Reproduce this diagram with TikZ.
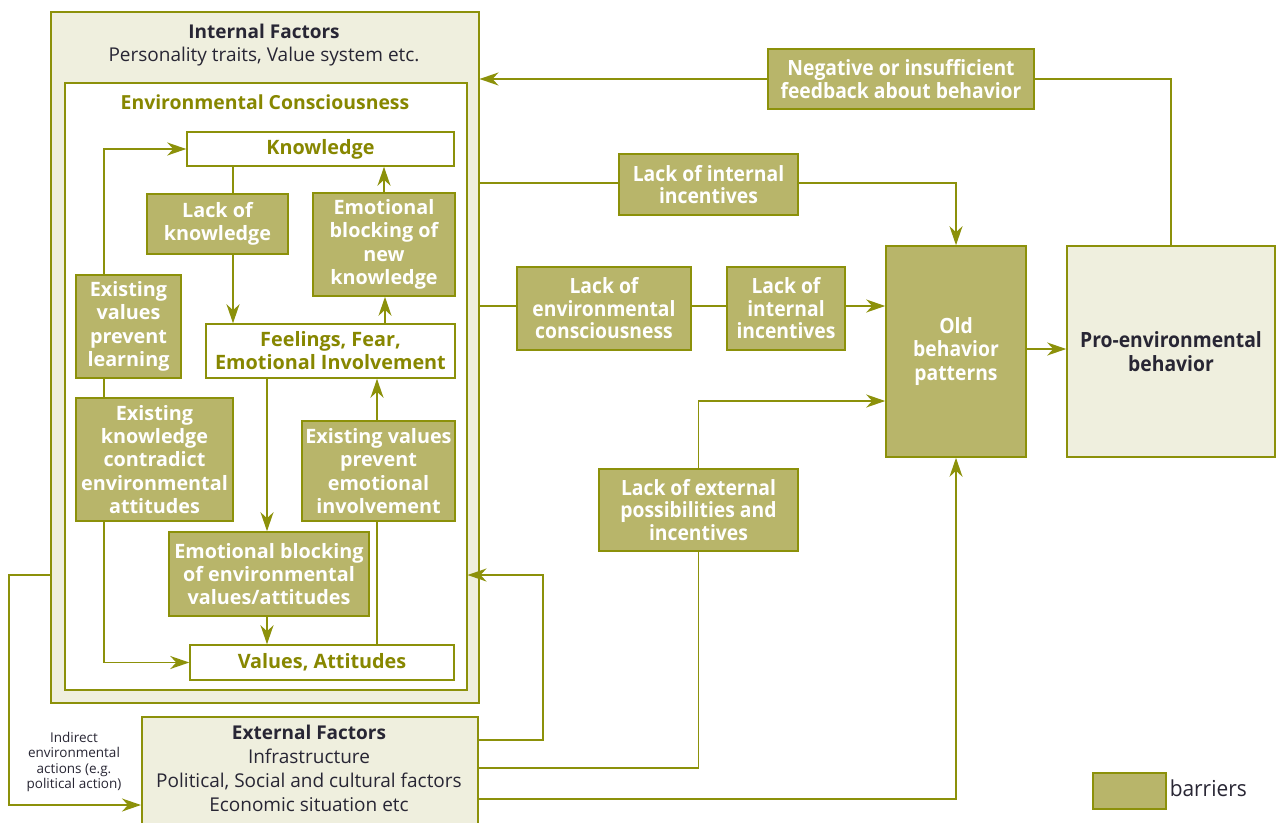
\documentclass[tikz,border=0pt]{standalone}
\usepackage{fontspec}
\setmainfont{Open Sans}
\newfontfamily\condfont[FakeStretch=0.92]{Open Sans}
\newfontfamily\condlight[FakeStretch=0.95]{Open Sans}
\usetikzlibrary{arrows.meta}
\definecolor{ol}{RGB}{140,145,10}
\definecolor{barfill}{RGB}{184,181,106}
\definecolor{beige}{RGB}{239,239,222}
\definecolor{oltext}{RGB}{135,135,0}
\definecolor{dark}{RGB}{40,38,52}
\tikzset{
  arr/.style={-{Stealth[length=19pt,width=13pt,inset=6pt]}},
  sz/.style 2 args={minimum width=#1, minimum height=#2},
  frame/.style={draw=ol, line width=1.5pt, inner sep=0pt, anchor=north west},
  bar/.style={draw=ol, line width=1.6pt, fill=barfill, text=white, align=center, inner sep=0pt,
    font=\bfseries\fontsize{19.8}{23.3}\selectfont},
  cbar/.style={bar, font=\condfont\bfseries\fontsize{21}{22.5}\selectfont},
  wbox/.style={draw=ol, line width=1.5pt, fill=white, text=oltext, align=center, inner sep=0pt,
    font=\bfseries\fontsize{19.8}{23}\selectfont},
  darktext/.style={text=dark, align=center, inner sep=0pt},
}
\begin{document}
\begin{tikzpicture}[x=1pt,y=-1pt,line width=1.5pt,draw=ol,color=ol]
\useasboundingbox (0,0) rectangle (1277,822);
\fill[white] (0,0) rectangle (1277,822);

% frames
\node[frame, fill=beige, sz={428}{691}] (IF) at (50,11) {};
\node[frame, fill=white, sz={402}{607}] (EC) at (64,82) {};
\node[frame, fill=beige, sz={336}{120}] (EF) at (141,716) {};

\node[darktext, font=\bfseries\fontsize{19}{23}\selectfont] (IFt) at (264,31) {Internal Factors};
\node[darktext, font=\fontsize{19}{23}\selectfont] (IFs) at (264,57) {Personality traits, Value system etc.};
\node[text=oltext, inner sep=0pt, font=\bfseries\fontsize{19.4}{23}\selectfont] (ECt) at (265,102) {Environmental Consciousness};

\node[darktext, font=\bfseries\fontsize{19}{23}\selectfont] (EFt) at (309,732) {External Factors};
\node[darktext, font=\fontsize{19}{24}\selectfont, anchor=north] (EFs) at (309,748) {Infrastructure\\Political, Social and cultural factors\\Economic situation etc};

\node[darktext, font=\fontsize{13.5}{15.5}\selectfont] (IND) at (74,762) {Indirect\\environmental\\actions (e.g.\\political action)};

% inner nodes
\node[wbox, sz={267}{34}] (K) at (320.5,149) {Knowledge};
\node[bar, sz={141}{60}] (LK) at (217.5,224) {Lack of\\knowledge};
\node[bar, sz={142}{103}] (EN) at (384,244.5) {Emotional\\blocking of\\new\\knowledge};
\node[wbox, sz={249}{54}] (FE) at (330.5,351) {Feelings, Fear,\\Emotional Involvement};
\node[bar, sz={105}{103}] (EVL) at (128.5,326.5) {Existing\\values\\prevent\\learning};
\node[bar, sz={157}{123}] (EK) at (154.5,459.5) {Existing\\knowledge\\contradict\\environmental\\attitudes};
\node[bar, sz={200}{84}] (EE) at (269,574) {Emotional blocking\\of environmental\\values/attitudes};
\node[bar, sz={153}{100}] (EVE) at (378.5,471) {Existing values\\prevent\\emotional\\involvement};
\node[wbox, sz={264}{35}] (V) at (322,662.5) {Values, Attitudes};

% right nodes
\node[cbar, sz={266}{60}] (FB) at (901,79) {Negative or insufficient\\feedback about behavior};
\node[cbar, sz={179}{61}] (LI1) at (708.5,184.5) {Lack of internal\\incentives};
\node[cbar, sz={174}{83}] (LEC) at (604,308.5) {Lack of\\environmental\\consciousness};
\node[cbar, sz={118}{83}] (LI2) at (786,308.5) {Lack of\\internal\\incentives};
\node[cbar, sz={140}{211}, font=\condfont\bfseries\fontsize{21}{23.5}\selectfont] (OB) at (956,351.5) {Old\\behavior\\patterns};
\node[cbar, sz={208}{211}, fill=beige, text=dark, font=\condfont\bfseries\fontsize{21}{24}\selectfont] (PB) at (1171,351.5) {Pro-environmental\\behavior};
\node[cbar, sz={199}{82}] (LE) at (698.5,510) {Lack of external\\possibilities and\\incentives};

% legend
\node[bar, sz={73}{36}] (LG) at (1129.5,791) {};
\node[darktext, anchor=west, font=\condlight\fontsize{22}{22}\selectfont] (LGt) at (1169,788) {barriers};

% inner connectors
\draw (K.south -| 233,0) -- (LK.north -| 233,0);
\draw[arr] (LK.south -| 233,0) -- (FE.north -| 233,0);
\draw[arr] (FE.north -| 385,0) -- (EN.south -| 385,0);
\draw[arr] (EN.north) -- (K.south -| EN.north);
\draw[arr] (EVL.north -| 104,0) |- (K.west);
\draw (EVL.south -| 104,0) -- (EK.north -| 104,0);
\draw[arr] (EK.south -| 104,0) |- (V.west);
\draw[arr] (FE.south -| 267,0) -- (EE.north -| 267,0);
\draw[arr] (EE.south -| 267,0) -- (V.north -| 267,0);
\draw (V.north -| 377,0) -- (EVE.south -| 377,0);
\draw[arr] (EVE.north -| 377,0) -- (FE.south -| 377,0);

% outer connectors
\draw[arr] (EF.east |- 0,740) -| (543,575) -- (EC.east |- 0,575);
\draw[arr] (IF.west |- 0,575) -| (9,805) -- (EF.west |- 0,805);
\draw (EF.east |- 0,768) -| (LE.south);
\draw[arr] (LE.north) |- (OB.west |- 0,401);
\draw[arr] (EF.east |- 0,799) -| (OB.south);
\draw (IF.east |- 0,183) -- (LI1.west |- 0,183);
\draw[arr] (LI1.east |- 0,183) -| (OB.north);
\draw (IF.east |- 0,306) -- (LEC.west |- 0,306);
\draw (LEC.east |- 0,306) -- (LI2.west |- 0,306);
\draw[arr] (LI2.east |- 0,306) -- (OB.west |- 0,306);
\draw[arr] (OB.east |- 0,349) -- (PB.west |- 0,349);
\draw (PB.north) |- (FB.east);
\draw[arr] (FB.west) -- (IF.east |- FB.west);
\end{tikzpicture}
\end{document}
